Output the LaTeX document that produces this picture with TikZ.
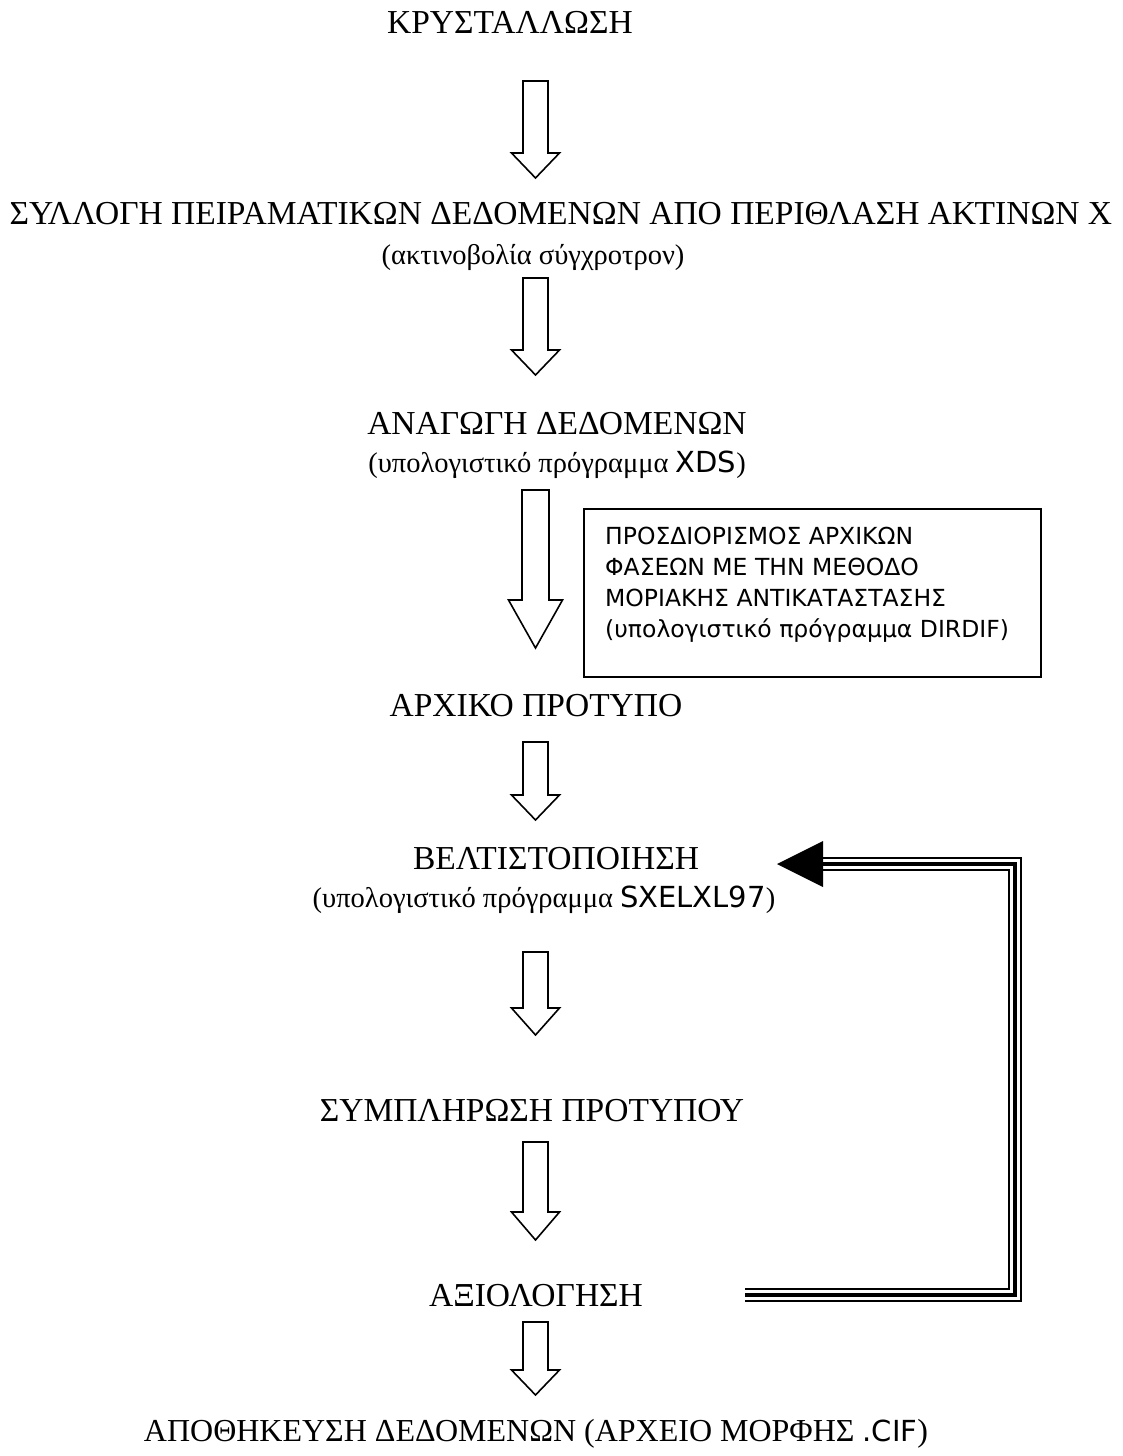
\documentclass[tikz,border=0pt]{standalone}
\usepackage{fontspec}
\usetikzlibrary{calc}
\setmainfont{Liberation Serif}
\newfontfamily\sansf{DejaVu Sans}
\newcommand\blockarr[6]{% cx, top, headbase, tip, halfshaft, halfhead
  \draw[blockarrow] ({#1-#5},#2) -- ({#1+#5},#2) -- ({#1+#5},#3) -- ({#1+#6},#3)
    -- (#1,#4) -- ({#1-#6},#3) -- ({#1-#5},#3) -- cycle;}
\newcommand\snsX[1]{{\sansf\fontsize{29}{35}\selectfont #1}}
\begin{document}
\begin{tikzpicture}[x=1pt,y=-1pt,
  lbl/.style={font=\fontsize{33.5}{40}\selectfont, inner sep=0pt, anchor=base},
  par/.style={font=\fontsize{28.5}{34}\selectfont, inner sep=0pt, anchor=base},
  boxtext/.style={font=\sansf\fontsize{23.5}{31}\selectfont, align=left, inner sep=0pt, anchor=north west},
  blockarrow/.style={draw=black, line width=1.6pt, fill=white, line join=miter},
  tripleA/.style={line width=14pt, line join=miter},
  tripleB/.style={draw=white, line width=9.5pt, line join=miter},
  tripleC/.style={line width=3.5pt, line join=miter}]
\useasboundingbox (0,0) rectangle (1122,1456);
\fill[white] (0,0) rectangle (1122,1456);

\node[lbl] (t1) at (510,33) {ΚΡΥΣΤΑΛΛΩΣΗ};
\node[lbl] (t2) at (561,224) {ΣΥΛΛΟΓΗ ΠΕΙΡΑΜΑΤΙΚΩΝ ΔΕΔΟΜΕΝΩΝ ΑΠΟ ΠΕΡΙΘΛΑΣΗ ΑΚΤΙΝΩΝ Χ};
\node[par] (t2b) at (533,264) {(ακτινοβολία σύγχροτρον)};
\node[lbl] (t3) at (557,434) {ΑΝΑΓΩΓΗ ΔΕΔΟΜΕΝΩΝ};
\node[par] (t3b) at (557,472) {(υπολογιστικό πρόγραμμα \snsX{XDS})};
\node[lbl] (t4) at (536,716) {ΑΡΧΙΚΟ ΠΡΟΤΥΠΟ};
\node[lbl] (t5) at (556,869) {ΒΕΛΤΙΣΤΟΠΟΙΗΣΗ};
\node[par] (t5b) at (544,907) {(υπολογιστικό πρόγραμμα \snsX{SXELXL97})};
\node[lbl] (t6) at (532,1121) {ΣΥΜΠΛΗΡΩΣΗ ΠΡΟΤΥΠΟΥ};
\node[lbl] (t7) at (536,1306) {ΑΞΙΟΛΟΓΗΣΗ};
\node[lbl, font=\fontsize{32}{38}\selectfont] (t8) at (536,1441) {ΑΠΟΘΗΚΕΥΣΗ ΔΕΔΟΜΕΝΩΝ (ΑΡΧΕΙΟ ΜΟΡΦΗΣ \snsX{.CIF})};

\node[draw, line width=1.5pt, anchor=north west, minimum width=457pt, minimum height=168pt, inner sep=0pt] (box) at (583,508) {};
\node[boxtext] (boxt) at (605,527) {ΠΡΟΣΔΙΟΡΙΣΜΟΣ ΑΡΧΙΚΩΝ\\ΦΑΣΕΩΝ ΜΕ ΤΗΝ ΜΕΘΟΔΟ\\ΜΟΡΙΑΚΗΣ ΑΝΤΙΚΑΤΑΣΤΑΣΗΣ\\(υπολογιστικό πρόγραμμα DIRDIF)};

\blockarr{535.5}{81}{153}{178}{12.5}{24}
\blockarr{535.5}{278}{350}{375}{12.5}{24}
\blockarr{535.5}{490}{600}{648}{13.5}{27}
\blockarr{535.5}{742}{795}{820}{12.5}{24}
\blockarr{535.5}{952}{1008}{1035}{12.5}{24}
\blockarr{535.5}{1142}{1212}{1240}{12.5}{24}
\blockarr{535.5}{1322}{1370}{1395}{12.5}{24}

\coordinate (fbS) at (745,1295);
\coordinate (fbC1) at (1015,1295);
\coordinate (fbC2) at (1015,864);
\coordinate (fbE) at (823,864);
\coordinate (fbT) at (777,864);
\foreach \s in {tripleA,tripleB,tripleC}
  \draw[\s] (fbS) -- (fbC1) -- (fbC2) -- (fbE);
\fill (fbT) -- ($(fbE)+(0,-23)$) -- ($(fbE)+(0,23)$) -- cycle;
\end{tikzpicture}
\end{document}
